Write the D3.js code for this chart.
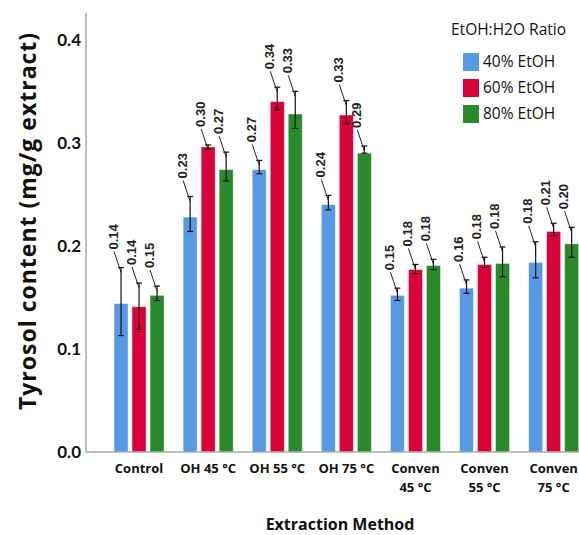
<!DOCTYPE html>
<html>
<head>
<meta charset="utf-8">
<script src="https://cdn.jsdelivr.net/npm/d3@7"></script>
<style>
  body { margin: 0; background: #fff; }
  svg { font-family: "Open Sans", "DejaVu Sans", sans-serif; }
  .valueLabel { font-family: "Liberation Sans", Arial, sans-serif; font-weight: bold; font-size: 13px; fill: #222; }
</style>
</head>
<body>
<div id="chart"></div>
<script>
var svgWidth = 579;
var svgHeight = 535;

// Data
var methods = ["Control", "OH 45 °C", "OH 55 °C", "OH 75 °C", "Conven\n45 °C", "Conven\n55 °C", "Conven\n75 °C"];
var ratios = ["40% EtOH", "60% EtOH", "80% EtOH"];
var colors = ["#5799e3", "#d9033a", "#2a8a2a"];

var etoh40 = [0.144, 0.228, 0.274, 0.240, 0.152, 0.159, 0.184];
var etoh60 = [0.141, 0.296, 0.340, 0.327, 0.177, 0.182, 0.214];
var etoh80 = [0.152, 0.274, 0.328, 0.290, 0.181, 0.183, 0.202];

var err40Low  = [0.113, 0.214, 0.270, 0.235, 0.147, 0.154, 0.169];
var err40High = [0.179, 0.248, 0.283, 0.249, 0.159, 0.167, 0.204];
var err60Low  = [0.119, 0.294, 0.332, 0.319, 0.173, 0.179, 0.210];
var err60High = [0.164, 0.298, 0.354, 0.341, 0.182, 0.189, 0.222];
var err80Low  = [0.147, 0.263, 0.314, 0.290, 0.177, 0.170, 0.189];
var err80High = [0.161, 0.291, 0.350, 0.297, 0.187, 0.199, 0.218];

var yTicks = [0.0, 0.1, 0.2, 0.3, 0.4];

var seriesValues = [etoh40, etoh60, etoh80];
var seriesLow = [err40Low, err60Low, err80Low];
var seriesHigh = [err40High, err60High, err80High];

var rows = [];
methods.forEach(function(m, i) {
  ratios.forEach(function(r, j) {
    rows.push({method: m, ratio: r, value: seriesValues[j][i], lo: seriesLow[j][i], hi: seriesHigh[j][i], color: colors[j]});
  });
});

var svg = d3.select("#chart")
  .append("svg")
  .attr("width", svgWidth)
  .attr("height", svgHeight);

var axisLeftX = 86;
var axisBottomY = 452;

// Scales
var x0 = d3.scaleBand()
  .domain(methods)
  .range([104.5, 588.2]);

var x1 = d3.scaleBand()
  .domain(ratios)
  .range([-27, 27])
  .paddingInner(0.222)
  .paddingOuter(0.111);

var y = d3.scaleLinear()
  .domain([0, 0.426])
  .range([axisBottomY, 13]);

// Y axis
var leftAxis = d3.axisLeft(y)
  .tickValues(yTicks)
  .tickFormat(d3.format(".1f"))
  .tickSize(0)
  .tickPadding(5);

var yAxisG = svg.append("g")
  .attr("transform", `translate(${axisLeftX}, 0)`)
  .call(leftAxis);
yAxisG.select(".domain").remove();
yAxisG.selectAll("text")
  .attr("font-size", 17)
  .attr("font-weight", "bold")
  .attr("fill", "#111")
  .attr("font-family", "Lato, sans-serif");

svg.append("line")
  .attr("x1", axisLeftX).attr("x2", axisLeftX)
  .attr("y1", y(0.426)).attr("y2", axisBottomY)
  .attr("stroke", "#a8a8a8").attr("stroke-width", 1.5);

// Bars
svg.append("g").selectAll("rect")
  .data(rows)
  .enter()
  .append("rect")
  .attr("x", d => x0(d.method) + x0.bandwidth() / 2 + x1(d.ratio))
  .attr("y", d => y(d.value))
  .attr("width", x1.bandwidth())
  .attr("height", d => axisBottomY - y(d.value))
  .attr("fill", d => d.color)
  .attr("stroke", "#ffffff")
  .attr("stroke-opacity", 0.5)
  .attr("stroke-width", 0.8);

// X axis line
svg.append("line")
  .attr("x1", axisLeftX).attr("x2", svgWidth)
  .attr("y1", axisBottomY).attr("y2", axisBottomY)
  .attr("stroke", "#a8a8a8").attr("stroke-width", 1.5);

// Error bars
function cx(d) { return x0(d.method) + x0.bandwidth() / 2 + x1(d.ratio) + x1.bandwidth() / 2; }

var errG = svg.append("g").attr("stroke", "#111").attr("stroke-width", 1.2);
rows.forEach(function(d) {
  var c = cx(d);
  errG.append("line").attr("x1", c).attr("x2", c).attr("y1", y(d.lo)).attr("y2", y(d.hi));
  errG.append("line").attr("x1", c - 3).attr("x2", c + 3).attr("y1", y(d.lo)).attr("y2", y(d.lo));
  errG.append("line").attr("x1", c - 3).attr("x2", c + 3).attr("y1", y(d.hi)).attr("y2", y(d.hi));
});

// Value labels with leader lines
var fmt = d3.format(".2f");
rows.forEach(function(d) {
  var c = cx(d);
  var top = y(d.hi);
  var lx = c - 8;
  var ly = top - 18;
  svg.append("line")
    .attr("x1", lx + 1).attr("y1", ly + 2)
    .attr("x2", c).attr("y2", top + 5)
    .attr("stroke", "#222").attr("stroke-width", 1);
  svg.append("text")
    .attr("class", "valueLabel")
    .attr("transform", `translate(${lx + 4.5}, ${ly}) rotate(-90)`)
    .attr("text-anchor", "start")
    .text(fmt(d.value));
});

// X tick labels
var xLabels = svg.append("g").selectAll("text")
  .data(methods)
  .enter()
  .append("text")
  .attr("x", d => x0(d) + x0.bandwidth() / 2)
  .attr("y", 473)
  .attr("text-anchor", "middle")
  .attr("font-size", 13)
  .attr("font-weight", "bold")
  .attr("fill", "#111");
xLabels.each(function(d) {
  var parts = d.split("\n");
  var t = d3.select(this);
  parts.forEach(function(p, k) {
    t.append("tspan")
      .attr("x", t.attr("x"))
      .attr("dy", k === 0 ? 0 : 19)
      .text(p);
  });
});

// Axis titles
svg.append("text")
  .attr("transform", `translate(36, 221) rotate(-90)`)
  .attr("text-anchor", "middle")
  .attr("font-size", 23)
  .attr("letter-spacing", 1)
  .attr("font-weight", "bold")
  .attr("fill", "#111")
  .text("Tyrosol content (mg/g extract)");

svg.append("text")
  .attr("x", 340)
  .attr("y", 530)
  .attr("text-anchor", "middle")
  .attr("font-size", 16)
  .attr("font-weight", "bold")
  .attr("fill", "#111")
  .text("Extraction Method");

// Legend
var legend = svg.append("g").attr("transform", "translate(451, 0)");
legend.append("text")
  .attr("x", 0).attr("y", 35)
  .attr("font-size", 15.5)
  .attr("fill", "#111")
  .text("EtOH:H2O Ratio");

ratios.forEach(function(r, j) {
  legend.append("rect")
    .attr("x", 12).attr("y", 53 + j * 26)
    .attr("width", 16).attr("height", 18)
    .attr("fill", colors[j]);
  legend.append("text")
    .attr("x", 32).attr("y", 67 + j * 26)
    .attr("font-size", 15.5)
    .attr("fill", "#111")
    .text(r);
});
</script>
</body>
</html>
